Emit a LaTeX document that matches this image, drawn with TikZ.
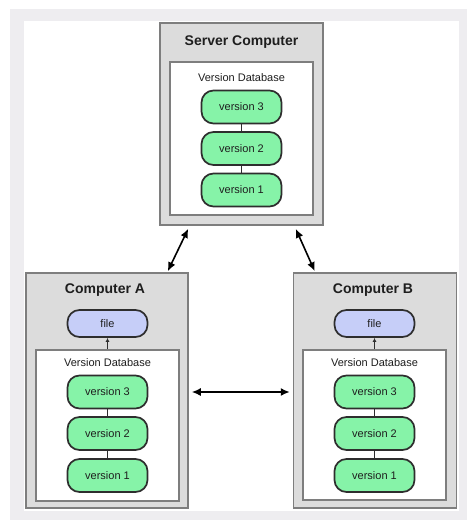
\documentclass[tikz,border=0pt]{standalone}
\usepackage{fontspec}
\setmainfont{Liberation Sans}
\usepackage{tikz}
\usetikzlibrary{arrows.meta,positioning}
\definecolor{framegray}{HTML}{EEEDF0}
\definecolor{boxgray}{HTML}{DCDCDC}
\definecolor{boxline}{HTML}{7E7E7E}
\definecolor{vgreen}{HTML}{86F3A8}
\definecolor{fileblue}{HTML}{C6CEF8}
\definecolor{pillline}{HTML}{2E2E2E}
\definecolor{ink}{HTML}{1E1E1E}
\tikzset{
  machine/.style={draw=boxline,fill=boxgray,line width=1.5pt,inner sep=0pt},
  database/.style={draw=boxline,fill=white,line width=1.1pt,inner sep=0pt},
  pill/.style={draw=pillline,line width=1.7pt,rounded corners=12pt,
    minimum width=80pt,minimum height=33pt,inner sep=0pt,text=ink,
    font=\fontsize{11}{13}\selectfont},
  version/.style={pill,fill=vgreen},
  file/.style={pill,fill=fileblue,minimum height=27pt},
  title/.style={text=ink,font=\fontsize{14}{16}\selectfont\bfseries},
  dblabel/.style={text=ink,font=\fontsize{11}{13}\selectfont},
  link/.style={pillline,line width=0.9pt},
  sync/.style={{Latex[length=9pt,width=8pt]}-{Latex[length=9pt,width=8pt]},line width=1.6pt}
}

\begin{document}
\begin{tikzpicture}[x=1pt,y=-1pt]
  % background
  \fill[white] (0,0) rectangle (467,520);
  \fill[framegray] (10,9) rectangle (467,520);
  \fill[white] (24,21) rectangle (459,511);
  % server
  \node[machine,minimum width=163pt,minimum height=202pt] (server) at (241.5,124) {};
  \node[database,minimum width=143pt,minimum height=153pt] (sdb) at (241.5,138.5) {};
  \node[title] (stitle) at (241.5,42) {Server Computer};
  \node[dblabel] (slabel) at (241.5,78) {Version Database};
  \foreach \v/\y in {3/107,2/148.5,1/190}
    \node[version] (s\v) at (241.5,\y) {version \v};
  \draw[link] (s3) -- (s2) (s2) -- (s1);
  % computer A
  \node[machine,minimum width=162pt,minimum height=235pt] (compA) at (107,390.5) {};
  \node[database,minimum width=143pt,minimum height=151pt] (adb) at (107.5,425.5) {};
  \node[title] (atitle) at (105,290) {Computer A};
  \node[file] (afile) at (107.5,323.5) {file};
  \node[dblabel] (alabel) at (107.5,363) {Version Database};
  \foreach \v/\y in {3/392,2/433.5,1/475.5}
    \node[version] (a\v) at (107.5,\y) {version \v};
  \draw[link] (a3) -- (a2) (a2) -- (a1);
  \draw[link,-{Latex[length=4pt,width=4pt]}] (adb.north -| afile) -- (afile.south);
  % computer B
  \node[machine,minimum width=163pt,minimum height=235pt] (compB) at (375,390.5) {};
  \node[database,minimum width=143pt,minimum height=150pt] (bdb) at (374.5,425) {};
  \node[title] (btitle) at (373,290) {Computer B};
  \node[file] (bfile) at (374.5,323.5) {file};
  \node[dblabel] (blabel) at (374.5,363) {Version Database};
  \foreach \v/\y in {3/392,2/433.5,1/475.5}
    \node[version] (b\v) at (374.5,\y) {version \v};
  \draw[link] (b3) -- (b2) (b2) -- (b1);
  \draw[link,-{Latex[length=4pt,width=4pt]}] (bdb.north -| bfile) -- (bfile.south);
  % sync arrows
  \draw[sync] ([xshift=29pt,yshift=-3pt]server.south west) -- ([xshift=-21pt,yshift=1pt]compA.north east);
  \draw[sync] ([xshift=-28pt,yshift=-3pt]server.south east) -- ([xshift=22pt,yshift=1pt]compB.north west);
  \draw[sync] ([xshift=3pt,yshift=-1.5pt]compA.east) -- ([xshift=-3pt,yshift=-1.5pt]compB.west);
\end{tikzpicture}
\end{document}
